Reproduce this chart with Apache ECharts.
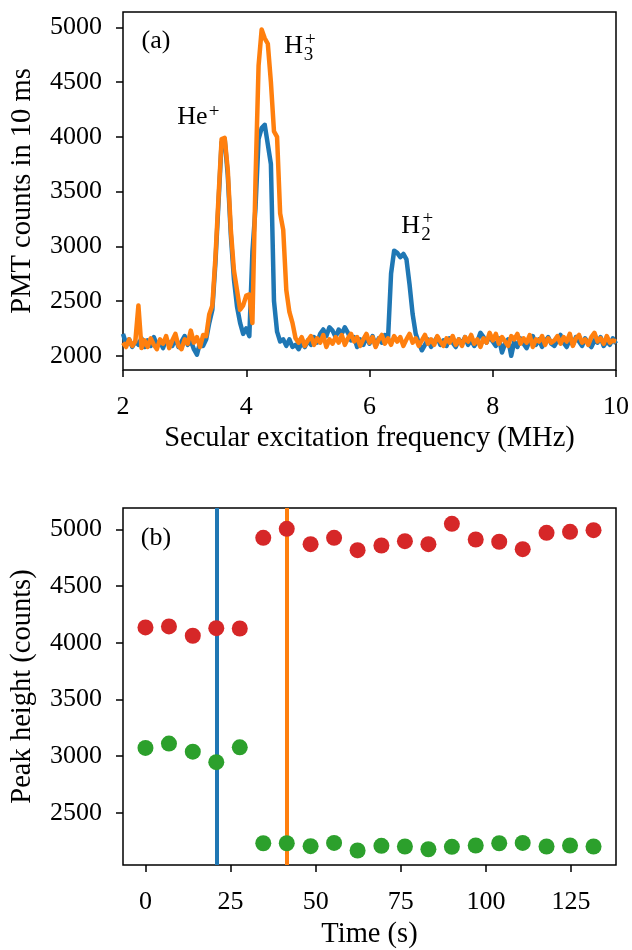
<!DOCTYPE html>
<html>
<head>
<meta charset="utf-8">
<script src="https://cdn.jsdelivr.net/npm/echarts@6/dist/echarts.min.js"></script>
<style>html,body{margin:0;padding:0;background:#fff}#c{width:632px;height:950px}</style>
</head>
<body>
<div id="c"></div>
<script>
// ---- Panel (a): PMT counts vs secular excitation frequency ----
const freq = [
2.00,2.05,2.10,2.15,2.20,2.25,2.30,2.35,2.40,2.45,
2.50,2.55,2.60,2.65,2.70,2.75,2.80,2.85,2.90,2.95,
3.00,3.05,3.10,3.15,3.20,3.25,3.30,3.35,3.40,3.45,
3.50,3.55,3.60,3.65,3.70,3.75,3.80,3.85,3.90,3.95,
4.00,4.05,4.10,4.15,4.20,4.25,4.30,4.35,4.40,4.45,
4.50,4.55,4.60,4.65,4.70,4.75,4.80,4.85,4.90,4.95,
5.00,5.05,5.10,5.15,5.20,5.25,5.30,5.35,5.40,5.45,
5.50,5.55,5.60,5.65,5.70,5.75,5.80,5.85,5.90,5.95,
6.00,6.05,6.10,6.15,6.20,6.25,6.30,6.35,6.40,6.45,
6.50,6.55,6.60,6.65,6.70,6.75,6.80,6.85,6.90,6.95,
7.00,7.05,7.10,7.15,7.20,7.25,7.30,7.35,7.40,7.45,
7.50,7.55,7.60,7.65,7.70,7.75,7.80,7.85,7.90,7.95,
8.00,8.05,8.10,8.15,8.20,8.25,8.30,8.35,8.40,8.45,
8.50,8.55,8.60,8.65,8.70,8.75,8.80,8.85,8.90,8.95,
9.00,9.05,9.10,9.15,9.20,9.25,9.30,9.35,9.40,9.45,
9.50,9.55,9.60,9.65,9.70,9.75,9.80,9.85,9.90,9.95,
10.00];

const countsBlue = [
2200,2110,2150,2080,2130,2100,2160,2080,2140,2090,
2170,2100,2130,2070,2150,2110,2090,2160,2080,2130,
2180,2100,2140,2060,2010,2120,2090,2150,2300,2420,
2850,3400,3950,3980,3650,3100,2700,2450,2300,2200,
2250,2180,2950,3350,3980,4080,4110,3930,3750,2500,
2220,2130,2150,2090,2150,2080,2100,2060,2120,2080,
2140,2100,2170,2120,2200,2240,2180,2260,2230,2170,
2240,2200,2260,2210,2140,2170,2080,2150,2100,2170,
2110,2180,2090,2160,2120,2190,2150,2750,2960,2940,
2900,2930,2880,2650,2380,2200,2120,2050,2100,2150,
2080,2130,2170,2100,2140,2090,2160,2120,2080,2150,
2110,2170,2100,2140,2090,2130,2210,2170,2120,2180,
2130,2090,2160,2030,2110,2150,2000,2130,2080,2160,
2110,2070,2140,2180,2100,2150,2080,2130,2170,2110,
2090,2140,2190,2120,2080,2150,2100,2170,2130,2090,
2160,2110,2080,2140,2120,2170,2090,2130,2100,2160,
2110];

const countsOrange = [
2120,2080,2150,2090,2130,2460,2070,2140,2080,2160,
2100,2060,2150,2110,2180,2070,2140,2200,2090,2060,
2150,2110,2230,2120,2170,2080,2190,2180,2380,2460,
2900,3450,3980,3990,3700,3150,2780,2600,2420,2460,
2550,2560,2300,3600,4650,4980,4900,4850,4500,4050,
4000,3300,3150,2600,2400,2300,2160,2120,2170,2090,
2140,2180,2100,2160,2120,2190,2080,2150,2110,2170,
2120,2190,2100,2160,2200,2130,2170,2090,2150,2200,
2120,2170,2080,2150,2190,2110,2160,2100,2180,2130,
2170,2090,2150,2200,2120,2160,2090,2140,2190,2110,
2150,2100,2180,2130,2090,2160,2120,2180,2100,2150,
2090,2170,2130,2190,2110,2150,2080,2160,2120,2210,
2140,2200,2110,2170,2130,2090,2180,2150,2200,2110,
2160,2120,2190,2080,2150,2130,2180,2100,2160,2120,
2140,2180,2110,2170,2130,2200,2090,2160,2190,2120,
2150,2100,2170,2210,2130,2160,2110,2180,2120,2140,
2130];

const freqTicks = [2, 4, 6, 8, 10];
const countTicksA = [2000, 2500, 3000, 3500, 4000, 4500, 5000];

// ---- Panel (b): peak heights vs time ----
const timeS = [0, 6.9, 13.9, 20.8, 27.7, 34.6, 41.5, 48.5, 55.4, 62.3,
               69.3, 76.2, 83.1, 90.0, 97.0, 103.9, 110.8, 117.8, 124.7, 131.6];
const peakRed = [4136, 4145, 4063, 4130, 4127, 4927, 5006, 4871, 4927, 4818,
                 4859, 4897, 4871, 5050, 4912, 4892, 4827, 4971, 4980, 4994];
const peakGreen = [3073, 3111, 3040, 2947, 3078, 2232, 2232, 2206, 2235, 2168,
                   2209, 2203, 2179, 2200, 2212, 2232, 2235, 2203, 2212, 2203];
const markBlueTime = 20.8;
const markOrangeTime = 41.5;
const timeTicks = [0, 25, 50, 75, 100, 125];
const countTicksB = [2500, 3000, 3500, 4000, 4500, 5000];

// annotations [x, y, text, kind]
const annotA = [
  [2.534, 4872, '(a)', 'n'],
  [3.125, 4180, 'He', 'n'],
  [3.480, 4222, '+', 's'],
  [4.769, 4827, 'H', 'n'],
  [5.010, 4745, '3', 's'],
  [5.040, 4887, '+', 's'],
  [6.669, 3188, 'H', 'n'],
  [6.915, 3106, '2', 's'],
  [6.945, 3248, '+', 's']
];
const annotB = [[3.08, 4925, '(b)', 'n']];

const FONT = 'Liberation Serif';
const FS = 26;
const NFS = 28.5;
const colors = { blue: '#1f77b4', orange: '#ff7f0e', red: '#d62728', green: '#2ca02c' };

function zip(a, b) { return a.map((v, i) => [v, b[i]]); }

function valAxis(gi, min, max, ticks, name, nameGap, margin) {
  return {
    type: 'value', gridIndex: gi, min: min, max: max,
    name: name, nameLocation: 'middle', nameGap: nameGap,
    nameTextStyle: { fontFamily: FONT, fontSize: NFS, color: '#000' },
    axisLine: { show: false, onZero: false },
    axisTick: { show: true, inside: false, length: 7, lineStyle: { color: '#000', width: 1.5 }, customValues: ticks },
    axisLabel: { show: true, fontFamily: FONT, fontSize: FS, color: '#000', margin: margin, customValues: ticks,
                 formatter: v => String(v) },
    splitLine: { show: false }
  };
}

function annotSeries(list, xi, yi) {
  return {
    type: 'scatter', xAxisIndex: xi, yAxisIndex: yi, symbolSize: 0, silent: true, z: 10,
    itemStyle: { opacity: 1 },
    data: list.map(a => ({
      value: [a[0], a[1]],
      label: {
        show: true, position: 'inside', formatter: a[2], opacity: 1,
        fontFamily: FONT, fontSize: a[3] === 's' ? 19 : FS, color: '#000', textBorderWidth: 0
      }
    }))
  };
}

const chart = echarts.init(document.getElementById('c'), null, { renderer: 'canvas' });
chart.setOption({
  animation: false,
  backgroundColor: '#fff',
  grid: [
    { left: 122, right: 16, top: 12, height: 358, show: true, borderColor: '#000', borderWidth: 1.5, backgroundColor: 'rgba(0,0,0,0)' },
    { left: 122, right: 16, top: 508, height: 360, show: true, borderColor: '#000', borderWidth: 1.5, backgroundColor: 'rgba(0,0,0,0)' }
  ],
  xAxis: [
    valAxis(0, 2, 10, freqTicks, 'Secular excitation frequency (MHz)', 54, 24),
    valAxis(1, -6.6, 138.2, timeTicks, 'Time (s)', 55, 24)
  ],
  yAxis: [
    valAxis(0, 1870, 5140, countTicksA, 'PMT counts in 10 ms', 86, 21),
    valAxis(1, 2040, 5190, countTicksB, 'Peak height (counts)', 86, 21)
  ],
  series: [
    { type: 'line', xAxisIndex: 0, yAxisIndex: 0, data: zip(freq, countsBlue), showSymbol: false, z: 2,
      lineStyle: { color: colors.blue, width: 4.5, join: 'round' }, itemStyle: { color: colors.blue } },
    { type: 'line', xAxisIndex: 0, yAxisIndex: 0, data: zip(freq, countsOrange), showSymbol: false, z: 3,
      lineStyle: { color: colors.orange, width: 4.5, join: 'round' }, itemStyle: { color: colors.orange } },
    annotSeries(annotA, 0, 0),
    { type: 'line', xAxisIndex: 1, yAxisIndex: 1, data: [], z: 1,
      markLine: { silent: true, symbol: ['none', 'none'], label: { show: false },
        data: [
          { xAxis: markBlueTime, lineStyle: { color: colors.blue, width: 4, type: 'solid' } },
          { xAxis: markOrangeTime, lineStyle: { color: colors.orange, width: 4, type: 'solid' } }
        ] } },
    { type: 'scatter', xAxisIndex: 1, yAxisIndex: 1, data: zip(timeS, peakRed), symbolSize: 16, z: 5,
      itemStyle: { color: colors.red, opacity: 1 } },
    { type: 'scatter', xAxisIndex: 1, yAxisIndex: 1, data: zip(timeS, peakGreen), symbolSize: 16, z: 5,
      itemStyle: { color: colors.green, opacity: 1 } },
    annotSeries(annotB, 1, 1)
  ]
});
</script>
</body>
</html>
